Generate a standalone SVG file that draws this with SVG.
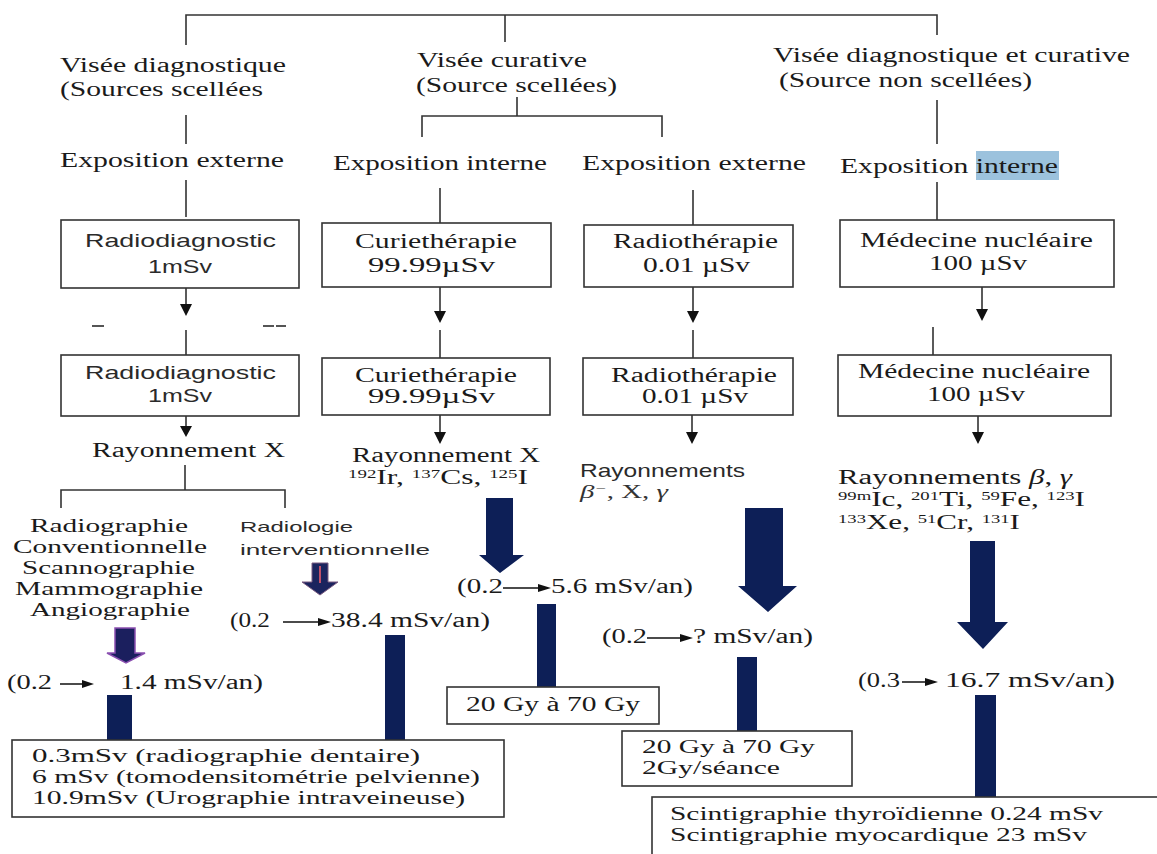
<svg xmlns="http://www.w3.org/2000/svg" width="1157" height="854" viewBox="0 0 1157 854">
<defs>
<style>
.s{font-family:"Liberation Serif","Times New Roman",serif;font-size:20px;fill:#1a1a1a}
.sm{font-family:"Liberation Serif","Times New Roman",serif;font-size:19px;fill:#1a1a1a}
.sb{font-family:"Liberation Serif","Times New Roman",serif;font-size:19px;fill:#1a1a1a}
.a{font-family:"Liberation Sans",Arial,sans-serif;font-size:19px;fill:#2a2a2a}
.as{font-family:"Liberation Sans",Arial,sans-serif;font-size:15px;fill:#2a2a2a}
.it{font-family:"Liberation Serif","Times New Roman",serif;font-style:italic}
.sup{font-size:12px}
.box{fill:#fff;stroke:#333;stroke-width:1.6}
.ln{stroke:#333;stroke-width:1.6;fill:none}
.thin{stroke:#111;stroke-width:1.3;fill:none}
.nv{fill:#0d1f57}
.hd{fill:#111}
</style>
</defs>
<rect width="1157" height="854" fill="#fff"/>

<g id="connectors">
<path class="ln" d="M186,45 V15 H937 V35 M505,15 V42"/>
<path class="ln" d="M186,115 V144 M186,180 V217"/>
<path class="ln" d="M517,97 V116 M422,137 V116 H662 V137"/>
<path class="ln" d="M440,188 V223 M693,190 V225"/>
<path class="ln" d="M937,100 V144 M937,182 V220"/>
<path class="ln" d="M186,288 V304 M440,287 V311 M693,287 V311 M982,287 V309"/>
<path class="hd" d="M180,304 H192 L186,316 Z M434,311 H446 L440,323 Z M687,311 H699 L693,323 Z M976,309 H988 L982,321 Z"/>
<path stroke="#555" stroke-width="2" d="M92,326 H104 M263,326 H274 M276,326 H286"/>
<path class="ln" d="M186,330 V355 M440,330 V358 M693,330 V358 M933,327 V355"/>
<path class="ln" d="M186,416 V426 M440,415 V433 M692,415 V433 M978,416 V433"/>
<path class="hd" d="M180,426 H192 L186,437 Z M434,432 H446 L440,444 Z M686,432 H698 L692,444 Z M972,432 H984 L978,444 Z"/>
<path class="ln" d="M185,465 V490 M61,508 V490 H285 V508"/>
<path class="thin" d="M60,684 H84 M283,622 H320 M503,588 H540 M647,638 H682 M902,682 H927"/>
<path class="hd" d="M82,680 L94,684 L82,688 Z M318,618 L331,622 L318,626 Z M538,584 L551,588 L538,592 Z M680,634 L693,638 L680,642 Z M925,678 L938,682 L925,686 Z"/>
<path fill="#1b1f5e" stroke="#8a4fb0" stroke-width="1.5" d="M115,628 H135 V653 H145 L126,663 L107,653 H115 Z"/>
<path fill="#1b245e" stroke="#7a5a80" stroke-width="1" d="M312,563 H328 V582 H338 L320,595 L302,582 H312 Z"/>
<path stroke="#c0506a" stroke-width="2" d="M320,566 V583"/>
<path class="nv" d="M486,498 H513 V555 H524 L500,573 L479,555 H486 Z"/>
<path class="nv" d="M745,508 H783 V586 H797 L768,612 L738,586 H745 Z"/>
<path class="nv" d="M970,541 H995 V622 H1008 L983,649 L957,622 H970 Z"/>
<rect class="nv" x="107" y="695" width="25" height="45"/>
<rect class="nv" x="385" y="635" width="20" height="105"/>
<rect class="nv" x="537" y="604" width="19" height="83"/>
<rect class="nv" x="737" y="657" width="20" height="74"/>
<rect class="nv" x="975" y="695" width="21" height="102"/>
</g>

<g id="visee-diagnostique">
<text class="s" x="60" y="72" textLength="226" lengthAdjust="spacingAndGlyphs">Visée diagnostique</text>
<text class="s" x="60" y="96" textLength="203" lengthAdjust="spacingAndGlyphs">(Sources scellées</text>
</g>
<g id="exposition-externe-1">
<text class="s" x="60" y="167" textLength="224" lengthAdjust="spacingAndGlyphs">Exposition externe</text>
</g>
<g id="visee-curative">
<text class="s" x="417" y="67" textLength="170" lengthAdjust="spacingAndGlyphs">Visée curative</text>
<text class="s" x="416" y="92" textLength="201" lengthAdjust="spacingAndGlyphs">(Source scellées)</text>
</g>
<g id="exposition-interne-1">
<text class="s" x="333" y="170" textLength="214" lengthAdjust="spacingAndGlyphs">Exposition interne</text>
</g>
<g id="exposition-externe-2">
<text class="s" x="582" y="170" textLength="224" lengthAdjust="spacingAndGlyphs">Exposition externe</text>
</g>
<g id="visee-diag-curative">
<text class="s" x="773" y="62" textLength="357" lengthAdjust="spacingAndGlyphs">Visée diagnostique et curative</text>
<text class="s" x="779" y="87" textLength="253" lengthAdjust="spacingAndGlyphs">(Source non scellées)</text>
</g>
<g id="exposition-interne-2">
<rect x="976" y="151" width="83" height="29" fill="#9cc2dd"/>
<text class="s" x="840" y="173" textLength="218" lengthAdjust="spacingAndGlyphs">Exposition interne</text>
</g>

<g id="radiodiagnostic-1">
<rect class="box" x="61" y="220" width="238" height="68"/>
<text class="a" x="85" y="247" textLength="191" lengthAdjust="spacingAndGlyphs">Radiodiagnostic</text>
<text class="a" x="148" y="273" textLength="64" lengthAdjust="spacingAndGlyphs">1mSv</text>
</g>
<g id="curietherapie-1">
<rect class="box" x="322" y="223" width="229" height="64"/>
<text class="s" x="355" y="248" textLength="162" lengthAdjust="spacingAndGlyphs">Curiethérapie</text>
<text class="s" x="368" y="272" textLength="127" lengthAdjust="spacingAndGlyphs">99.99µSv</text>
</g>
<g id="radiotherapie-1">
<rect class="box" x="584" y="225" width="209" height="62"/>
<text class="s" x="613" y="248" textLength="165" lengthAdjust="spacingAndGlyphs">Radiothérapie</text>
<text class="s" x="643" y="272" textLength="107" lengthAdjust="spacingAndGlyphs">0.01 µSv</text>
</g>
<g id="medecine-1">
<rect class="box" x="840" y="220" width="274" height="67"/>
<text class="s" x="860" y="247" textLength="233" lengthAdjust="spacingAndGlyphs">Médecine nucléaire</text>
<text class="s" x="929" y="270" textLength="98" lengthAdjust="spacingAndGlyphs">100 µSv</text>
</g>

<g id="radiodiagnostic-2">
<rect class="box" x="61" y="355" width="238" height="61"/>
<text class="a" x="85" y="379" textLength="191" lengthAdjust="spacingAndGlyphs">Radiodiagnostic</text>
<text class="a" x="148" y="402" textLength="64" lengthAdjust="spacingAndGlyphs">1mSv</text>
</g>
<g id="curietherapie-2">
<rect class="box" x="322" y="358" width="228" height="57"/>
<text class="s" x="355" y="382" textLength="162" lengthAdjust="spacingAndGlyphs">Curiethérapie</text>
<text class="s" x="368" y="403" textLength="127" lengthAdjust="spacingAndGlyphs">99.99µSv</text>
</g>
<g id="radiotherapie-2">
<rect class="box" x="583" y="358" width="210" height="57"/>
<text class="s" x="611" y="382" textLength="166" lengthAdjust="spacingAndGlyphs">Radiothérapie</text>
<text class="s" x="642" y="403" textLength="106" lengthAdjust="spacingAndGlyphs">0.01 µSv</text>
</g>
<g id="medecine-2">
<rect class="box" x="838" y="355" width="273" height="61"/>
<text class="s" x="858" y="378" textLength="232" lengthAdjust="spacingAndGlyphs">Médecine nucléaire</text>
<text class="s" x="927" y="401" textLength="98" lengthAdjust="spacingAndGlyphs">100 µSv</text>
</g>

<g id="rayonnement-x-1">
<text class="s" x="92" y="457" textLength="193" lengthAdjust="spacingAndGlyphs">Rayonnement X</text>
</g>
<g id="rayonnement-x-2">
<text class="s" x="352" y="462" textLength="188" lengthAdjust="spacingAndGlyphs">Rayonnement X</text>
<text class="s" x="348" y="484" textLength="180" lengthAdjust="spacingAndGlyphs"><tspan class="sup" dy="-6">192</tspan><tspan dy="6">Ir, </tspan><tspan class="sup" dy="-6">137</tspan><tspan dy="6">Cs, </tspan><tspan class="sup" dy="-6">125</tspan><tspan dy="6">I</tspan></text>
</g>
<g id="rayonnements-radio">
<text class="a" x="580" y="477" textLength="165" lengthAdjust="spacingAndGlyphs">Rayonnements</text>
<text class="it" x="580" y="498" font-size="19" fill="#333" textLength="88" lengthAdjust="spacingAndGlyphs">β<tspan font-size="12" dy="-6">−</tspan><tspan dy="6" font-style="normal">, X, </tspan>γ</text>
</g>
<g id="rayonnements-med">
<text class="s" x="838" y="484" textLength="234" lengthAdjust="spacingAndGlyphs">Rayonnements <tspan class="it">β</tspan>, <tspan class="it">γ</tspan></text>
<text class="s" x="838" y="506" textLength="247" lengthAdjust="spacingAndGlyphs"><tspan class="sup" dy="-6">99m</tspan><tspan dy="6">Ic, </tspan><tspan class="sup" dy="-6">201</tspan><tspan dy="6">Ti, </tspan><tspan class="sup" dy="-6">59</tspan><tspan dy="6">Fe, </tspan><tspan class="sup" dy="-6">123</tspan><tspan dy="6">I</tspan></text>
<text class="s" x="838" y="529" textLength="182" lengthAdjust="spacingAndGlyphs"><tspan class="sup" dy="-6">133</tspan><tspan dy="6">Xe, </tspan><tspan class="sup" dy="-6">51</tspan><tspan dy="6">Cr, </tspan><tspan class="sup" dy="-6">131</tspan><tspan dy="6">I</tspan></text>
</g>

<g id="radiographie-list">
<text class="sb" x="30" y="532" textLength="158" lengthAdjust="spacingAndGlyphs">Radiographie</text>
<text class="sb" x="13" y="553" textLength="194" lengthAdjust="spacingAndGlyphs">Conventionnelle</text>
<text class="sb" x="22" y="574" textLength="173" lengthAdjust="spacingAndGlyphs">Scannographie</text>
<text class="sb" x="15" y="595" textLength="188" lengthAdjust="spacingAndGlyphs">Mammographie</text>
<text class="sb" x="30" y="616" textLength="160" lengthAdjust="spacingAndGlyphs">Angiographie</text>
</g>
<g id="radiologie-interventionnelle">
<text class="as" x="240" y="532" textLength="113" lengthAdjust="spacingAndGlyphs">Radiologie</text>
<text class="as" x="240" y="555" textLength="190" lengthAdjust="spacingAndGlyphs">interventionnelle</text>
</g>

<g id="dose-1">
<text class="s" x="7" y="689" textLength="45" lengthAdjust="spacingAndGlyphs">(0.2</text>
<text class="s" x="120" y="689" textLength="143" lengthAdjust="spacingAndGlyphs">1.4 mSv/an)</text>
</g>
<g id="dose-2">
<text class="s" x="230" y="627" textLength="40" lengthAdjust="spacingAndGlyphs">(0.2</text>
<text class="s" x="331" y="627" textLength="159" lengthAdjust="spacingAndGlyphs">38.4 mSv/an)</text>
</g>
<g id="dose-3">
<text class="s" x="457" y="593" textLength="46" lengthAdjust="spacingAndGlyphs">(0.2</text>
<text class="s" x="551" y="593" textLength="142" lengthAdjust="spacingAndGlyphs">5.6 mSv/an)</text>
</g>
<g id="dose-4">
<text class="s" x="602" y="643" textLength="45" lengthAdjust="spacingAndGlyphs">(0.2</text>
<text class="s" x="693" y="643" textLength="120" lengthAdjust="spacingAndGlyphs">? mSv/an)</text>
</g>
<g id="dose-5">
<text class="s" x="858" y="687" textLength="42" lengthAdjust="spacingAndGlyphs">(0.3</text>
<text class="s" x="945" y="687" textLength="170" lengthAdjust="spacingAndGlyphs">16.7 mSv/an)</text>
</g>

<g id="exemples-radiodiagnostic">
<rect class="box" x="12" y="740" width="492" height="77"/>
<text class="sm" x="32" y="762" textLength="388" lengthAdjust="spacingAndGlyphs">0.3mSv (radiographie dentaire)</text>
<text class="sm" x="32" y="783" textLength="448" lengthAdjust="spacingAndGlyphs">6 mSv (tomodensitométrie pelvienne)</text>
<text class="sm" x="32" y="804" textLength="433" lengthAdjust="spacingAndGlyphs">10.9mSv (Urographie intraveineuse)</text>
</g>
<g id="dose-curietherapie">
<rect class="box" x="447" y="687" width="212" height="37"/>
<text class="s" x="466" y="711" textLength="174" lengthAdjust="spacingAndGlyphs">20 Gy à 70 Gy</text>
</g>
<g id="dose-radiotherapie">
<rect class="box" x="622" y="731" width="230" height="55"/>
<text class="sm" x="642" y="753" textLength="173" lengthAdjust="spacingAndGlyphs">20 Gy à 70 Gy</text>
<text class="sm" x="642" y="774" textLength="138" lengthAdjust="spacingAndGlyphs">2Gy/séance</text>
</g>
<g id="scintigraphie">
<rect class="box" x="652" y="797" width="510" height="70"/>
<text class="sm" x="670" y="820" textLength="433" lengthAdjust="spacingAndGlyphs">Scintigraphie thyroïdienne 0.24 mSv</text>
<text class="sm" x="670" y="841" textLength="417" lengthAdjust="spacingAndGlyphs">Scintigraphie myocardique 23 mSv</text>
</g>
</svg>
